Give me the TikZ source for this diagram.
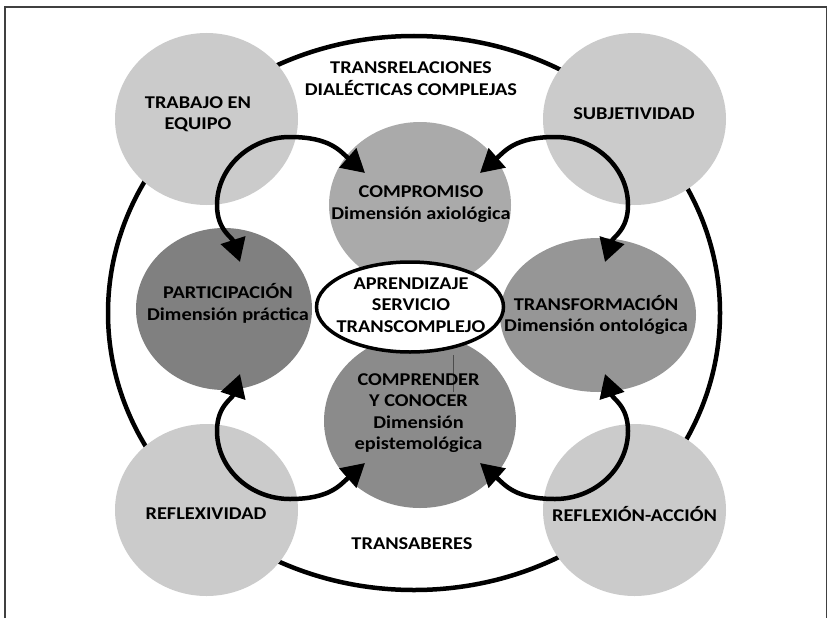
\documentclass[tikz,border=0pt]{standalone}
\usepackage{fontspec}
\setmainfont[FakeStretch=1.13]{Carlito}
\usetikzlibrary{shapes.geometric,arrows.meta}
\definecolor{lightg}{HTML}{CBCBCB}
\definecolor{compg}{HTML}{AAAAAA}
\definecolor{partg}{HTML}{808080}
\definecolor{transg}{HTML}{969696}
\definecolor{comprg}{HTML}{8B8B8B}
\begin{document}
\begin{tikzpicture}[x=1pt,y=-1pt,
  blob/.style={ellipse, inner sep=0pt, draw=none},
  txt/.style={align=center, inner sep=0pt, text=black,
    font=\bfseries\fontsize{18}{21.5}\selectfont},
  frameline/.style={draw=black!75, line width=1.6pt},
  dblarrow/.style={line width=4.5pt, line cap=round,
    {Triangle[length=23pt,width=25pt]}-{Triangle[length=23pt,width=25pt]}}]
\useasboundingbox (0,0) rectangle (829,618);
\draw[frameline] (5,618) -- (5,7) -- (826.5,7) -- (826.5,618);
% outer ellipse
\node[blob, draw=black, line width=4.5pt, minimum width=612pt, minimum height=554pt] (outer) at (414,313) {};
% light circles
\node[blob, fill=lightg, minimum width=183pt, minimum height=172pt] (trab) at (206.5,119) {};
\node[blob, fill=lightg, minimum width=183pt, minimum height=172pt] (subj) at (634.5,119) {};
\node[blob, fill=lightg, minimum width=183pt, minimum height=172pt] (refl) at (206.5,510) {};
\node[blob, fill=lightg, minimum width=183pt, minimum height=172pt] (refacc) at (634.5,510) {};
% dimension circles
\node[blob, fill=compg, minimum width=182pt, minimum height=166pt] (comp) at (420,205) {};
\node[blob, fill=partg, minimum width=176pt, minimum height=162pt] (part) at (224,309) {};
\node[blob, fill=transg, minimum width=196pt, minimum height=154pt] (transf) at (598,315) {};
\node[blob, fill=comprg, minimum width=192pt, minimum height=174pt] (compr) at (420,421) {};
% centre
\node[blob, fill=white, draw=black, line width=3.5pt, minimum width=187pt, minimum height=90pt] (centre) at (410,307) {};
\coordinate (s1) at (453,355);
\coordinate (s2) at (453,392);
\draw[black!70, line width=0.8pt] (s1) -- (s2);
% arrows
\draw[dblarrow] ([shift={(16,-47)}]part.center) .. controls +(-8,-25) and +(0,25) .. (217,205)
  .. controls +(0,-37.5) and +(-40,0) .. (290,137)
  .. controls +(40,0) and +(-25,-22) .. ([shift={(-55,-32)}]comp.center);
\draw[dblarrow] ([shift={(7,-53)}]transf.center) .. controls +(8,-25) and +(0,25) .. (628,205)
  .. controls +(0,-37.5) and +(40,0) .. (555,137)
  .. controls +(-40,0) and +(25,-22) .. ([shift={(60,-32)}]comp.center);
\draw[dblarrow] ([shift={(16,65)}]part.center) .. controls +(-8,25) and +(0,-25) .. (217,431)
  .. controls +(0,37.5) and +(-40,0) .. (290,499)
  .. controls +(40,0) and +(-25,22) .. ([shift={(-55,42)}]compr.center);
\draw[dblarrow] ([shift={(7,59)}]transf.center) .. controls +(8,25) and +(0,-25) .. (628,431)
  .. controls +(0,37.5) and +(40,0) .. (555,499)
  .. controls +(-40,0) and +(25,22) .. ([shift={(60,42)}]compr.center);
% texts
\node[txt] (ttrans) at (411,78.5) {TRANSRELACIONES\\DIALÉCTICAS COMPLEJAS};
\node[txt] (ttrab) at (198,114) {TRABAJO EN\\EQUIPO};
\node[txt] (tsubj) at (634,113.5) {SUBJETIVIDAD};
\node[txt] (tcomp) at (421,204) {COMPROMISO\\Dimensión axiológica};
\node[txt] (tpart) at (228,303.5) {PARTICIPACIÓN\\Dimensión práctica};
\node[txt] (tcentre) at (411,305) {APRENDIZAJE\\SERVICIO\\TRANSCOMPLEJO};
\node[txt] (ttransf) at (596,315) {TRANSFORMACIÓN\\Dimensión ontológica};
\node[txt] (tcompr) at (418.5,413) {COMPRENDER\\Y CONOCER\\Dimensión\\epistemológica};
\node[txt] (trefl) at (206,514) {REFLEXIVIDAD};
\node[txt] (trefacc) at (634.5,514) {REFLEXIÓN-ACCIÓN};
\node[txt] (tsab) at (412,544) {TRANSABERES};
\end{tikzpicture}
\end{document}
